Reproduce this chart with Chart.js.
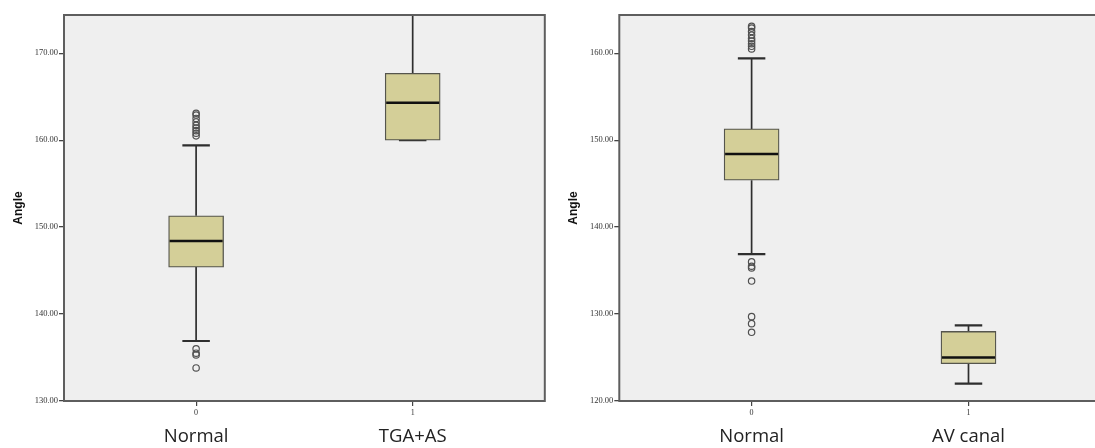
<!DOCTYPE html>
<html>
<head>
<meta charset="utf-8">
<script src="https://cdn.jsdelivr.net/npm/chart.js@4.4.1/dist/chart.umd.min.js"></script>
<style>
  html, body { margin:0; padding:0; background:#ffffff; }
  #wrap { position:relative; width:1095px; height:448px; overflow:hidden; }
  #c1 { position:absolute; left:0; top:0; }
  #c2 { position:absolute; left:550px; top:0; }
</style>
</head>
<body>
<div id="wrap">
  <canvas id="c1" width="550" height="448"></canvas>
  <canvas id="c2" width="556" height="448"></canvas>
</div>
<script>
// ---------- data ----------
const groupCodes = [0, 1];
const tickLabels = ['0', '1'];
const leftCategories = ['Normal', 'TGA+AS'];
const rightCategories = ['Normal', 'AV canal'];

// box statistics: [min whisker, Q1, median, Q3, max whisker]
const normalBox = [136.9, 145.4, 148.4, 151.3, 159.4];
const tgaAsBox  = [160.0, 160.0, 164.3, 167.7, 174.4];
const avCanalBox = [122.0, 124.3, 125.0, 128.0, 128.7];

// outliers of the Normal group
const normalOutliers = [163.1, 162.9, 162.5, 162.1, 161.7, 161.4, 161.1, 160.8, 160.5,
                        136.0, 135.5, 135.3, 133.8, 129.7, 128.9, 127.9];

const leftYRange = [130, 174.4];
const rightYRange = [120, 164.4];
const yStep = 10;
const xRange = [-0.61, 1.61];

// ---------- styles ----------
const BOX_FILL = '#d4cf98';
const BOX_EDGE = '#55554d';
const LINE = '#2e2e2e';
const PLOT_BG = '#efefef';
const FRAME = '#5e5e5e';

const boxPlugin = {
  id: 'boxWhiskers',
  beforeDraw(chart) {
    const a = chart.chartArea, ctx = chart.ctx;
    ctx.save();
    ctx.fillStyle = PLOT_BG;
    ctx.fillRect(a.left, a.top, a.right - a.left, a.bottom - a.top);
    ctx.restore();
  },
  beforeDatasetsDraw(chart) {
    const o = chart.options.plugins.boxWhiskers;
    const xs = chart.scales.x, ys = chart.scales.y, ctx = chart.ctx;
    const meta = chart.getDatasetMeta(0);
    ctx.save();
    ctx.beginPath();
    ctx.rect(chart.chartArea.left, chart.chartArea.top - 2, chart.chartArea.right - chart.chartArea.left, chart.chartArea.bottom - chart.chartArea.top + 2);
    ctx.clip();
    ctx.strokeStyle = LINE;
    o.stats.forEach((s, i) => {
      const x = xs.getPixelForValue(o.xs[i]);
      const w = meta.data[i].width;
      const capHalf = w / 4;
      const [mn, q1, , q3, mx] = s;
      ctx.lineWidth = 1.7;
      ctx.beginPath();
      ctx.moveTo(x, ys.getPixelForValue(q3)); ctx.lineTo(x, ys.getPixelForValue(mx));
      ctx.moveTo(x, ys.getPixelForValue(q1)); ctx.lineTo(x, ys.getPixelForValue(mn));
      ctx.stroke();
      ctx.lineWidth = 2.2;
      ctx.beginPath();
      ctx.moveTo(x - capHalf, ys.getPixelForValue(mx)); ctx.lineTo(x + capHalf, ys.getPixelForValue(mx));
      ctx.moveTo(x - capHalf, ys.getPixelForValue(mn)); ctx.lineTo(x + capHalf, ys.getPixelForValue(mn));
      ctx.stroke();
    });
    ctx.restore();
  },
  afterDatasetsDraw(chart) {
    const o = chart.options.plugins.boxWhiskers;
    const xs = chart.scales.x, ys = chart.scales.y, ctx = chart.ctx;
    const meta = chart.getDatasetMeta(0);
    ctx.save();
    ctx.strokeStyle = '#111111';
    ctx.lineWidth = 2.5;
    o.stats.forEach((s, i) => {
      const x = xs.getPixelForValue(o.xs[i]);
      const w = meta.data[i].width;
      const y = ys.getPixelForValue(s[2]);
      ctx.beginPath();
      ctx.moveTo(x - w / 2 + 1, y); ctx.lineTo(x + w / 2 - 1, y);
      ctx.stroke();
    });
    const a = chart.chartArea;
    ctx.strokeStyle = FRAME;
    ctx.lineWidth = 2;
    ctx.strokeRect(a.left, a.top, a.right - a.left, a.bottom - a.top);
    ctx.restore();
  }
};

function makeChart(id, boxes, yRange, categories, yWidth, titlePad) {
  const inRange = normalOutliers.filter(v => v >= yRange[0] && v <= yRange[1]);
  const fixedTicks = (scale) => { scale.ticks = groupCodes.map(v => ({ value: v })); };
  return new Chart(document.getElementById(id), {
    data: {
      datasets: [
        {
          type: 'bar',
          data: boxes.map((s, i) => ({ x: groupCodes[i], y: [s[1], s[3]] })),
          backgroundColor: BOX_FILL,
          borderColor: BOX_EDGE,
          borderWidth: 1.3,
          borderSkipped: false,
          barThickness: 55
        },
        {
          type: 'scatter',
          data: inRange.map(v => ({ x: groupCodes[0], y: v })),
          pointStyle: 'circle',
          pointRadius: 3.2,
          borderWidth: 1.2,
          borderColor: '#505050',
          backgroundColor: 'rgba(0,0,0,0)'
        }
      ]
    },
    options: {
      responsive: false,
      animation: false,
      layout: { padding: { top: 15, right: 3, left: 0, bottom: 0 } },
      plugins: {
        legend: { display: false },
        tooltip: { enabled: false },
        boxWhiskers: { stats: boxes, xs: groupCodes }
      },
      scales: {
        x: {
          type: 'linear',
          position: 'bottom',
          offset: false,
          min: xRange[0], max: xRange[1],
          afterBuildTicks: fixedTicks,
          afterFit: (s) => { s.height = 20; },
          border: { display: false },
          grid: { offset: false, drawOnChartArea: false, drawTicks: true, tickLength: 5, color: '#444444', lineWidth: 1.2 },
          ticks: {
            padding: 2,
            color: '#333333',
            font: { family: 'Liberation Serif', size: 8 },
            callback: (v) => tickLabels[groupCodes.indexOf(v)]
          }
        },
        x2: {
          type: 'linear',
          position: 'bottom',
          offset: false,
          min: xRange[0], max: xRange[1],
          afterBuildTicks: fixedTicks,
          afterFit: (s) => { s.height = 27; },
          border: { display: false },
          grid: { offset: false, display: false, drawTicks: false },
          ticks: {
            padding: 5,
            color: '#222222',
            font: { family: 'Open Sans', size: 18.5 },
            callback: (v) => categories[groupCodes.indexOf(v)]
          }
        },
        y: {
          type: 'linear',
          min: yRange[0], max: yRange[1],
          afterFit: (s) => { s.width = yWidth; },
          border: { display: false },
          grid: { drawOnChartArea: false, drawTicks: true, tickLength: 5, color: '#444444', lineWidth: 1.3 },
          ticks: {
            stepSize: yStep,
            includeBounds: false,
            padding: 1,
            color: '#333333',
            font: { family: 'Liberation Serif', size: 8.5 },
            callback: (v) => v.toFixed(2)
          },
          title: {
            display: true,
            text: 'Angle',
            color: '#111111',
            font: { family: 'Liberation Sans', size: 12, weight: 'bold' },
            padding: { top: 11, bottom: 0 }
          }
        }
      }
    },
    plugins: [boxPlugin]
  });
}

makeChart('c1', [normalBox, tgaAsBox], leftYRange, leftCategories, 64);
makeChart('c2', [normalBox, avCanalBox], rightYRange, rightCategories, 69.3);
// right panel title sits further in
Chart.getChart('c2').options.scales.y.title.padding = { top: 16, bottom: 0 };
Chart.getChart('c2').update();
</script>
</body>
</html>
